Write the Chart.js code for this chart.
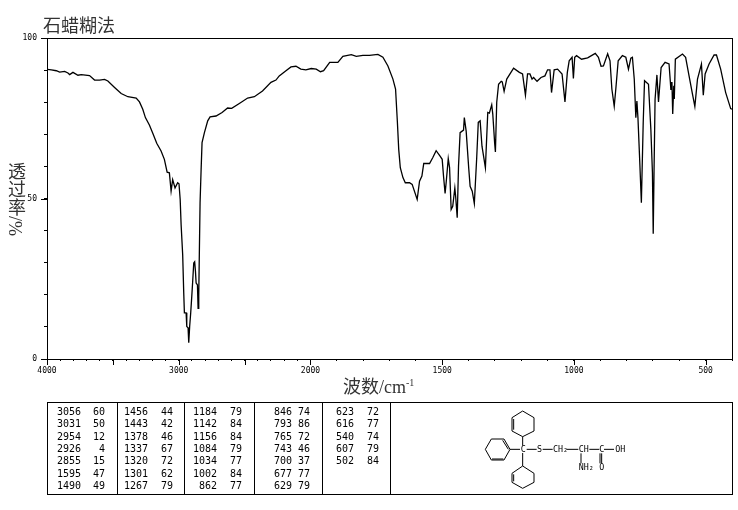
<!DOCTYPE html>
<html>
<head>
<meta charset="utf-8">
<script src="https://cdn.jsdelivr.net/npm/chart.js@4"></script>
<style>
  html, body { margin: 0; padding: 0; background: #fff; }
  #page { position: relative; width: 738px; height: 510px; overflow: hidden; }
  #page canvas { position: absolute; left: 0; top: 0; }
  .label { position: absolute; color: #333; font-family: "Liberation Serif", "Noto Sans CJK SC", serif; white-space: nowrap; }
  #title { left: 43px; top: 14px; font-size: 18px; line-height: 24px; }
  #xTitle { left: 343px; top: 376px; font-size: 18px; line-height: 22px; }
  #xTitle sup { font-size: 10px; line-height: 0; }
  #yTitle { left: 6px; top: 162px; font-size: 18px; line-height: 18px; writing-mode: vertical-rl; }
  #table { position: absolute; left: 47px; top: 402px; width: 684px; height: 91px; border: 1px solid #000; }
  .sep { position: absolute; top: 0; bottom: 0; width: 1px; background: #000; }
  .num { position: absolute; font: 10px/12px "DejaVu Sans Mono", monospace; color: #000; text-align: right; width: 30px; }
  #mol { position: absolute; left: 380px; top: 395px; }
  #mol line, #mol polygon { stroke: #000; stroke-width: 3; fill: none; }
  #mol text { font: 25px "DejaVu Sans Mono", monospace; fill: #000; }
</style>
</head>
<body>
<div id="page">
  <canvas id="irChart" width="738" height="510"></canvas>
  <div class="label" id="title">石蜡糊法</div>
  <div class="label" id="yTitle">透过率/%</div>
  <div class="label" id="xTitle">波数/cm<sup>-1</sup></div>
  <div id="table"></div>
  <svg id="mol" width="358" height="110" viewBox="0 0 1074 330">
    <polygon points="428,48 462,68 462,108 428,125 396,108 396,68"/>
    <line x1="401" y1="72" x2="401" y2="104"/>
    <polygon points="316,163 334,132 372,132 390,163 372,195 334,195"/>
    <line x1="336" y1="192" x2="370" y2="192"/>
    <line x1="368" y1="136" x2="385" y2="163"/>
    <polygon points="428,213 462,235 462,262 428,280 396,262 396,235"/>
    <line x1="401" y1="238" x2="401" y2="259"/>
    <line x1="390" y1="163" x2="420" y2="163"/>
    <line x1="428" y1="125" x2="428" y2="152"/>
    <line x1="428" y1="174" x2="428" y2="213"/>
    <line x1="440" y1="163" x2="470" y2="163"/>
    <line x1="488" y1="163" x2="518" y2="163"/>
    <line x1="560" y1="163" x2="595" y2="163"/>
    <line x1="628" y1="163" x2="658" y2="163"/>
    <line x1="672" y1="163" x2="702" y2="163"/>
    <line x1="603" y1="175" x2="603" y2="205"/>
    <line x1="660" y1="175" x2="660" y2="205"/>
    <line x1="665" y1="175" x2="665" y2="205"/>
    <text x="422" y="172">C</text>
    <text x="471" y="172">S</text>
    <text x="519" y="172">CH₂</text>
    <text x="596" y="172">CH</text>
    <text x="658" y="172">C</text>
    <text x="706" y="172">OH</text>
    <text x="596" y="224">NH₂</text>
    <text x="658" y="224">O</text>
  </svg>
</div>
<script>
// spectrum
const wavenumbers = [
  3997, 3967, 3929, 3904, 3866, 3841, 3828, 3803, 3765, 3740, 3677, 3639, 3601, 3563, 3538, 3487,
  3437, 3386, 3323, 3298, 3273, 3253, 3222, 3197, 3167, 3134, 3109, 3088, 3071, 3058, 3046, 3028,
  3008, 2998, 2989, 2982, 2970, 2962, 2957, 2944, 2939, 2929, 2924, 2917, 2909, 2901, 2894, 2886,
  2879, 2873, 2868, 2858, 2853, 2848, 2845, 2838, 2830, 2823, 2805, 2780, 2762, 2717, 2671, 2629,
  2598, 2540, 2477, 2426, 2364, 2300, 2262, 2237, 2186, 2148, 2110, 2073, 2035, 1997, 1978, 1962,
  1950, 1927, 1896, 1877, 1845, 1826, 1801, 1776, 1744, 1725, 1706, 1687, 1677, 1670, 1665, 1659,
  1649, 1640, 1624, 1614, 1595, 1586, 1577, 1570, 1548, 1536, 1523, 1508, 1500, 1495, 1489, 1485,
  1477, 1472, 1466, 1460, 1452, 1449, 1443, 1438, 1432, 1419, 1416, 1409, 1399, 1394, 1386, 1378,
  1369, 1363, 1356, 1349, 1336, 1327, 1321, 1312, 1308, 1301, 1298, 1293, 1286, 1276, 1272, 1265,
  1255, 1229, 1207, 1195, 1184, 1176, 1167, 1159, 1153, 1140, 1125, 1110, 1100, 1091, 1085, 1075,
  1062, 1045, 1034, 1025, 1018, 1007, 1002, 997, 990, 971, 948, 919, 907, 897, 888, 872,
  863, 856, 847, 841, 832, 816, 803, 793, 784, 778, 771, 765, 761, 757, 750, 744,
  737, 732, 717, 708, 702, 699, 696, 692, 685, 679, 669, 654, 639, 634, 632, 628,
  625, 621, 619, 615, 588, 576, 563, 550, 541, 531, 516, 509, 502, 487, 468, 459,
  443, 424, 405, 400
];
const transmittance = [
  90.2, 90.1, 89.8, 89.4, 89.6, 89.1, 88.6, 89.3, 88.4, 88.6, 88.3, 86.9, 86.9, 87.1, 86.6, 84.6,
  82.7, 81.7, 81.3, 80.1, 77.8, 75.2, 72.8, 70.3, 67.2, 64.8, 62.2, 58.2, 58.0, 52.3, 55.9, 53.3,
  54.9, 54.6, 49.7, 41.9, 32.5, 20.6, 14.4, 14.4, 10.1, 9.7, 5.1, 10.1, 14.4, 19.5, 24.2, 29.9,
  30.3, 27.3, 23.7, 23.1, 15.8, 19.5, 28.8, 48.7, 59.1, 67.4, 70.5, 74.2, 75.4, 75.7, 76.8, 78.2,
  78.1, 79.6, 81.3, 81.7, 83.5, 86.2, 86.9, 88.2, 89.8, 91.0, 91.2, 90.3, 90.1, 90.5, 90.3, 89.5,
  89.8, 92.4, 92.4, 94.3, 94.8, 94.3, 94.6, 94.6, 94.9, 94.0, 91.3, 87.2, 84.1, 73.7, 65.3, 59.6,
  56.5, 54.9, 54.9, 54.4, 49.7, 55.4, 57.0, 60.9, 60.9, 62.7, 64.9, 63.2, 62.2, 57.0, 51.6, 54.9,
  62.4, 59.6, 46.6, 47.6, 53.3, 50.7, 44.0, 60.1, 70.5, 71.3, 75.2, 71.0, 59.1, 53.8, 52.3, 48.4,
  62.7, 73.7, 74.2, 66.3, 59.6, 76.8, 76.6, 79.2, 76.3, 67.4, 64.5, 80.0, 85.6, 86.5, 86.3, 83.4,
  87.2, 90.6, 89.3, 88.8, 82.2, 88.8, 88.8, 87.2, 87.7, 86.5, 87.7, 88.2, 90.1, 90.1, 83.0, 90.1,
  90.3, 88.8, 80.1, 89.3, 92.9, 94.0, 87.4, 94.0, 94.5, 93.4, 93.8, 95.2, 94.0, 91.2, 91.3, 95.1,
  92.9, 84.1, 78.7, 84.1, 92.9, 94.5, 94.0, 90.3, 93.7, 94.0, 87.2, 75.2, 80.4, 75.2, 61.2, 48.7,
  73.7, 86.7, 85.6, 71.6, 58.0, 39.0, 58.0, 80.9, 88.5, 80.1, 90.8, 92.4, 91.9, 86.3, 83.8, 86.3,
  76.3, 85.1, 81.0, 93.4, 95.0, 94.0, 88.2, 82.5, 78.7, 87.2, 91.9, 82.2, 88.8, 91.9, 94.7, 94.7,
  90.3, 83.0, 78.0, 77.8
];

// tick labels
const xTickStep = 100;
const xLabels = [4000, 3000, 2000, 1500, 1000, 500];
const yLabels = [0, 50, 100];

// peak table, one list per column
const peakWavenumbers = [
  [3056, 3031, 2954, 2926, 2855, 1595, 1490],
  [1456, 1443, 1378, 1337, 1320, 1301, 1267],
  [1184, 1142, 1156, 1084, 1034, 1002, 862],
  [846, 793, 765, 743, 700, 677, 629],
  [623, 616, 540, 607, 502]
];
const peakValues = [
  [60, 50, 12, 4, 15, 47, 49],
  [44, 42, 46, 67, 72, 62, 79],
  [79, 84, 84, 79, 77, 84, 77],
  [74, 86, 72, 46, 37, 77, 79],
  [72, 77, 74, 79, 84]
];

// the spectrum axis changes scale at 2000: 4000-2000 is squeezed to half
const toAxis = (wn) => wn >= 2000 ? (4000 - wn) / 2 : 1000 + (2000 - wn);
const fromAxis = (v) => v <= 1000 ? 4000 - v * 2 : 2000 - (v - 1000);

// --- table ---
const table = document.getElementById('table');
const sepX = [69, 136, 206, 274, 342];
const wnRight = [33, 100, 169, 244, 306];
const valRight = [57, 125, 194, 262, 331];
const rowTop = [3, 15, 28, 40, 52, 65, 77];
function addNum(text, right, top) {
  const el = document.createElement('div');
  el.className = 'num';
  el.textContent = text;
  el.style.left = (right - 30) + 'px';
  el.style.top = top + 'px';
  table.appendChild(el);
}
sepX.forEach((x) => {
  const el = document.createElement('div');
  el.className = 'sep';
  el.style.left = x + 'px';
  table.appendChild(el);
});
peakWavenumbers.forEach((col, c) => {
  col.forEach((wn, r) => {
    addNum(wn, wnRight[c], rowTop[r]);
    addNum(peakValues[c][r], valRight[c], rowTop[r]);
  });
});

// frame round the plot and the longer ticks every 500 / 50 %
const frameAndTicks = {
  id: 'frameAndTicks',
  afterDraw(chart) {
    const { ctx, chartArea: a, scales } = chart;
    ctx.save();
    ctx.strokeStyle = '#000';
    ctx.lineWidth = 1;
    ctx.strokeRect(a.left + 0.5, a.top + 0.5, a.right - a.left, a.bottom - a.top);
    ctx.beginPath();
    scales.x.ticks.forEach((t) => {
      const wn = fromAxis(t.value);
      if (wn % 500 !== 0) return;
      const px = Math.round(scales.x.getPixelForValue(t.value)) + 0.5;
      ctx.moveTo(px, a.bottom);
      ctx.lineTo(px, a.bottom + 6);
    });
    yLabels.forEach((v) => {
      const py = Math.round(scales.y.getPixelForValue(v)) + 0.5;
      ctx.moveTo(a.left, py);
      ctx.lineTo(a.left - 6, py);
    });
    ctx.stroke();
    ctx.restore();
  }
};

const tickFont = { family: '"DejaVu Sans Mono", monospace', size: 8 };

new Chart(document.getElementById('irChart'), {
  type: 'scatter',
  data: {
    datasets: [{
      data: wavenumbers.map((wn, i) => ({ x: toAxis(wn), y: transmittance[i] })),
      showLine: true,
      borderColor: '#000',
      borderWidth: 1.3,
      tension: 0,
      pointRadius: 0
    }]
  },
  options: {
    responsive: false,
    animation: false,
    events: [],
    layout: { padding: { left: 0, top: 38, right: 6, bottom: 130 } },
    plugins: { legend: { display: false }, tooltip: { enabled: false } },
    scales: {
      x: {
        type: 'linear',
        min: 0,
        max: 2600,
        afterFit: (s) => { s.height = 21; },
        afterBuildTicks: (s) => {
          const ticks = [];
          for (let wn = 4000; wn >= 400; wn -= xTickStep) ticks.push({ value: toAxis(wn) });
          s.ticks = ticks;
        },
        grid: { drawOnChartArea: false, tickLength: 2, tickColor: '#000' },
        border: { color: '#000' },
        ticks: {
          autoSkip: false,
          maxRotation: 0,
          padding: 5,
          color: '#000',
          font: tickFont,
          callback: (v) => {
            const wn = fromAxis(v);
            return xLabels.includes(wn) ? String(wn) : '';
          }
        }
      },
      y: {
        min: 0,
        max: 100,
        afterFit: (s) => { s.width = 47; },
        grid: { drawOnChartArea: false, tickLength: 3, tickColor: '#000' },
        border: { color: '#000' },
        ticks: {
          stepSize: 10,
          autoSkip: false,
          padding: 7,
          color: '#000',
          font: tickFont,
          callback: (v) => yLabels.includes(v) ? String(v) : ''
        }
      }
    }
  },
  plugins: [frameAndTicks]
});
</script>
</body>
</html>
